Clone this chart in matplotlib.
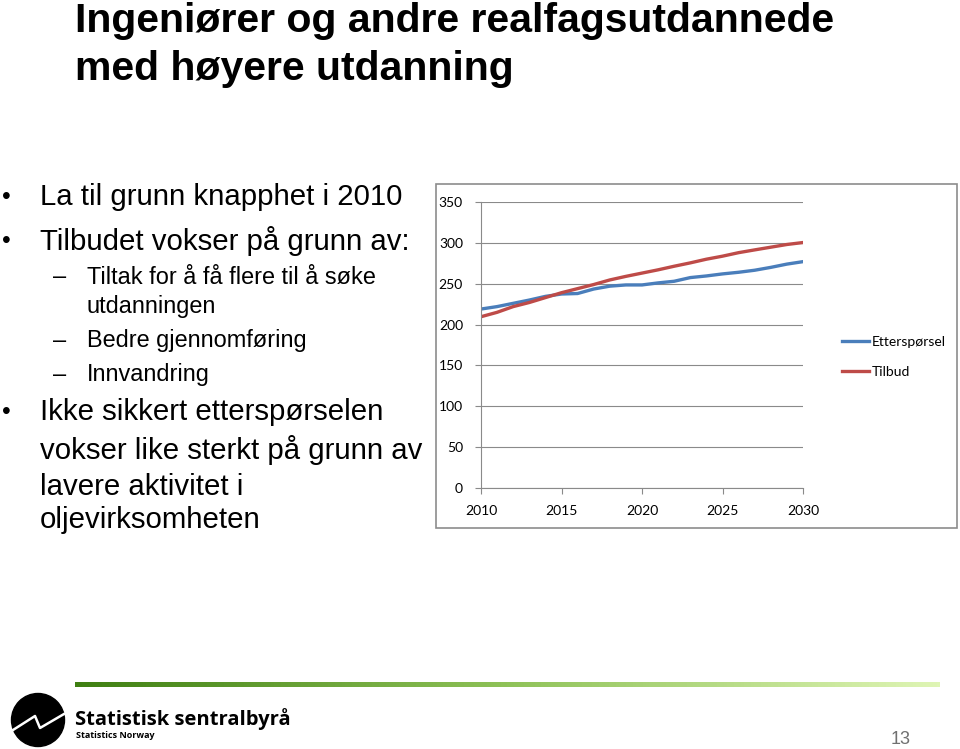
import matplotlib.pyplot as plt
from matplotlib.patches import Rectangle, Circle
import numpy as np

years = list(range(2010, 2031))
etterspoersel = [219, 222, 226, 230, 234.5, 237.4, 238, 243.5, 247, 248.5, 248.5,
                 251, 253, 257.5, 259.5, 262, 264, 266.5, 270, 274, 277]
tilbud = [209.6, 215, 222, 227, 233, 239, 244, 249, 254.6, 259, 263,
          267, 271.4, 275.5, 280, 283.7, 288, 291.4, 294.7, 298, 300.4]
yticks = [0, 50, 100, 150, 200, 250, 300, 350]
xticks = [2010, 2015, 2020, 2025, 2030]

W, H = 960, 749
fig = plt.figure(figsize=(W / 100, H / 100), dpi=100)
fig.patch.set_facecolor('white')


def fx(px):
    return px / W


def fy(py):
    return 1 - py / H


sans = 'Liberation Sans'
chartfont = 'Lato'

# title
fig.text(fx(75), fy(21), 'Ingeniører og andre realfagsutdannede', fontsize=29.5,
         fontweight='bold', family=sans, va='center', ha='left')
fig.text(fx(75), fy(69), 'med høyere utdanning', fontsize=29.5,
         fontweight='bold', family=sans, va='center', ha='left')

# bullet text
lines = [
    ('b', 197, 'La til grunn knapphet i 2010'),
    ('b', 241, 'Tilbudet vokser på grunn av:'),
    ('s', 277, 'Tiltak for å få flere til å søke'),
    ('c', 307, 'utdanningen'),
    ('s', 341, 'Bedre gjennomføring'),
    ('s', 375, 'Innvandring'),
    ('b', 412, 'Ikke sikkert etterspørselen'),
    ('c2', 450, 'vokser like sterkt på grunn av'),
    ('c2', 487, 'lavere aktivitet i'),
    ('c2', 520, 'oljevirksomheten'),
]
for kind, y, txt in lines:
    if kind == 'b':
        fig.text(fx(2), fy(y), '•', fontsize=18, family=sans, va='center')
        fig.text(fx(40), fy(y), txt, fontsize=21.2, family=sans, va='center')
    elif kind == 'c2':
        fig.text(fx(40), fy(y), txt, fontsize=21.2, family=sans, va='center')
    elif kind == 's':
        fig.text(fx(53), fy(y), '–', fontsize=17, family=sans, va='center')
        fig.text(fx(87), fy(y), txt, fontsize=16.9, family=sans, va='center')
    else:
        fig.text(fx(87), fy(y), txt, fontsize=16.9, family=sans, va='center')

# chart frame
fig.patches.append(Rectangle((fx(436), fy(528)), fx(957 - 436), (528 - 184) / H,
                             transform=fig.transFigure, fill=False,
                             edgecolor='#8c8c8c', linewidth=1.2))

ax = fig.add_axes([fx(481), fy(488), fx(803 - 481), (488 - 202) / H])
ax.plot(years, etterspoersel, color='#4a7ebb', linewidth=2.4, label='Etterspørsel')
ax.plot(years, tilbud, color='#be4b48', linewidth=2.4, label='Tilbud')
ax.set_xlim(2010, 2030)
ax.set_ylim(0, 350)
ax.set_yticks(yticks)
ax.set_xticks(xticks)
ax.grid(axis='y', color='#8a8a8a', linewidth=0.8)
ax.set_axisbelow(True)
for s in ['top', 'right']:
    ax.spines[s].set_visible(False)
for s in ['left', 'bottom']:
    ax.spines[s].set_color('#8a8a8a')
ax.tick_params(colors='#8a8a8a', length=4, width=0.8)
for lab in ax.get_xticklabels() + ax.get_yticklabels():
    lab.set_family(chartfont)
    lab.set_fontsize(10)
    lab.set_color('black')
ax.tick_params(axis='y', pad=9)
ax.tick_params(axis='x', pad=8)
ax.legend(loc='center left', bbox_to_anchor=(fx(829), fy(357)),
          bbox_transform=fig.transFigure, frameon=False,
          prop={'family': chartfont, 'size': 10}, handlelength=2.0,
          handletextpad=0.2, labelspacing=1.3)

# footer gradient bar
grad = fig.add_axes([fx(75), fy(687), fx(940 - 75), 5 / H])
grad.imshow(np.linspace(0, 1, 256)[None, :], aspect='auto',
            cmap=plt.matplotlib.colors.LinearSegmentedColormap.from_list(
                'g', ['#3f7f12', '#8fc258', '#dff5b5']))
grad.axis('off')

# logo
lax = fig.add_axes([fx(8), fy(749), fx(62), 62 / H])
lax.set_xlim(0, 62)
lax.set_ylim(0, 62)
lax.set_aspect('equal')
lax.axis('off')
lax.add_patch(Circle((30, 29), 26.5, color='black'))
lax.plot([5, 27, 32, 56], [19, 33, 21, 35], color='white', linewidth=1.8)

fig.text(fx(75), fy(719), 'Statistisk sentralbyrå', fontsize=14.5, fontweight='bold',
         family='Open Sans', va='center')
fig.text(fx(76), fy(735), 'Statistics Norway', fontsize=6.5, fontweight='bold',
         family='Open Sans', va='center')
fig.text(fx(901), fy(739), '13', fontsize=13, family=sans, color='#707070',
         va='center', ha='center')

fig.savefig('out.png', dpi=100, facecolor='white')
